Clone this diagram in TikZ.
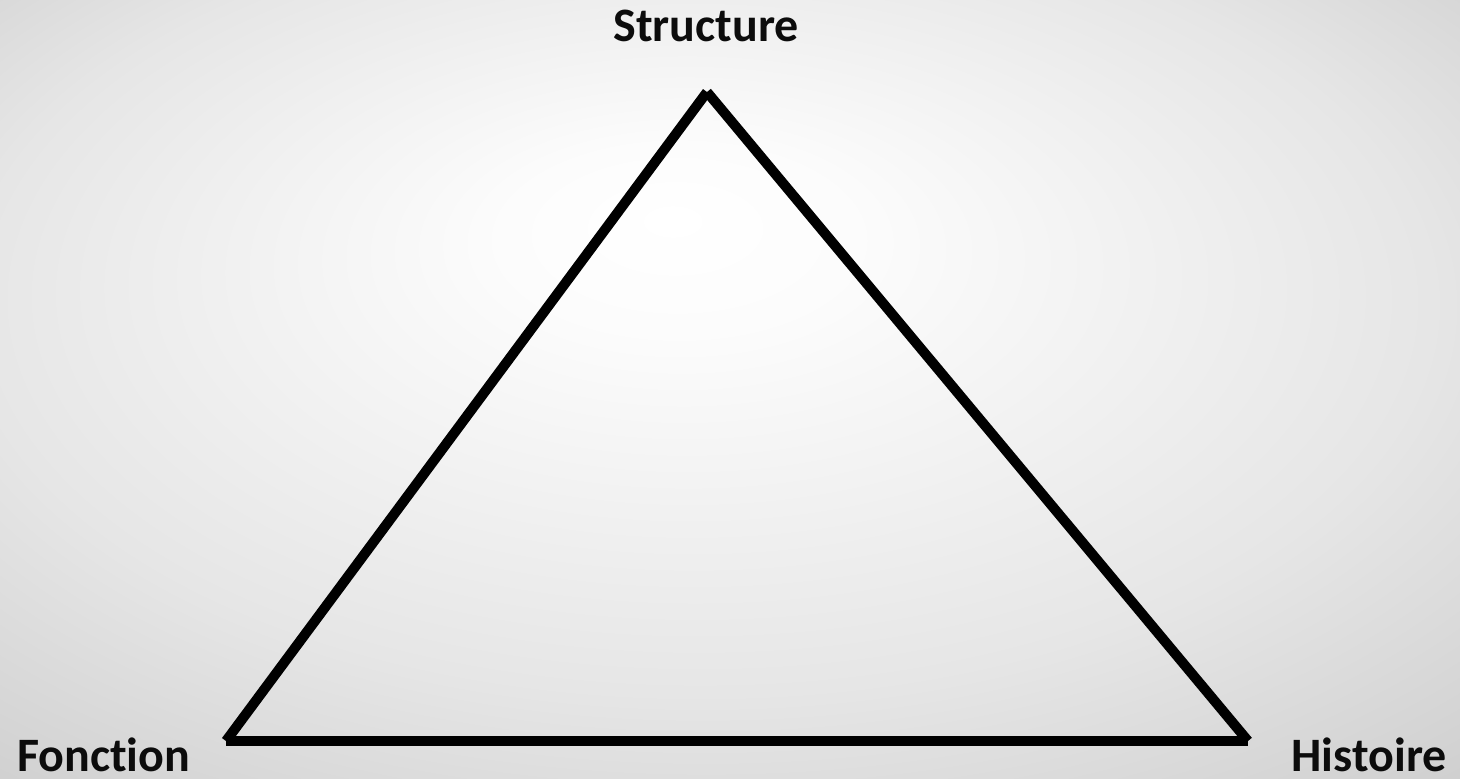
\documentclass[tikz,border=0pt]{standalone}
\usepackage{fontspec}
\setmainfont[RawFeature=-liga]{Carlito}
\usetikzlibrary{positioning}
\definecolor{TriEdge}{RGB}{184,184,184}
\definecolor{TriOuter}{RGB}{200,200,200}
\definecolor{TriMid}{RGB}{230,230,230}
\definecolor{TriCore}{RGB}{252,252,252}
\definecolor{TriInk}{RGB}{12,12,12}
\pgfdeclareradialshading{tri/bgshade}{\pgfpoint{-2bp}{11bp}}{%
  color(0bp)=(white); color(6bp)=(TriCore); color(25bp)=(TriMid);
  color(42bp)=(TriOuter); color(50bp)=(TriEdge)}
\tikzset{
  tri/side/.style={draw=black, line width=10pt},
  tri/label/.style={font=\fontsize{48}{58}\selectfont\bfseries, text=TriInk, inner sep=0pt}
}
\begin{document}
\begin{tikzpicture}[x=1pt,y=-1pt]
  \shade[shading=tri/bgshade] (0,0) rectangle (1460,779);
  \useasboundingbox (0,0) rectangle (1460,779);
  \coordinate (top) at (707,92);
  \coordinate (left) at (226,741);
  \coordinate (right) at (1248,741);
  \draw[tri/side] (top) -- (left);
  \draw[tri/side] (top) -- (right);
  \draw[tri/side] (left) -- (right);
  \node[tri/label, anchor=base] (structure) at (706,41) {Structure};
  \node[tri/label, anchor=base west] (fonction) at (17,771) {Fonction};
  \node[tri/label, anchor=base east] (histoire) at (1447,771) {Histoire};
\end{tikzpicture}
\end{document}
